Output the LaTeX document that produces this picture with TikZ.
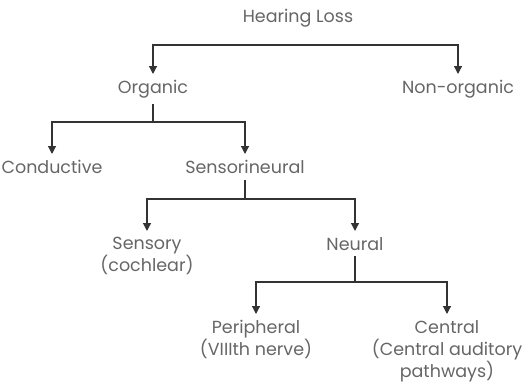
\documentclass[tikz,border=0pt]{standalone}
\usepackage{fontspec}
\setmainfont{Poppins}
\usetikzlibrary{arrows.meta}

\begin{document}
\begin{tikzpicture}[x=1pt,y=-1pt,line width=1.2pt,>={Triangle[length=8pt,width=8pt]},
  term/.style={font=\fontsize{17.5}{22}\selectfont,text=black!60,align=center,inner xsep=1pt,inner ysep=5.5pt,anchor=north},
  link/.style={draw=black!80}]
  \useasboundingbox (0,0) rectangle (531,388);
  % nodos del arbol
  \node[term] (hl) at (298,3) {Hearing Loss};
  \node[term] (org) at (153,74) {Organic};
  \node[term] (non) at (458,74) {Non-organic};
  \node[term] (cond) at (52,154) {Conductive};
  \node[term] (sens) at (245,154) {Sensorineural};
  \node[term] (sensory) at (147,231) {Sensory\\(cochlear)};
  \node[term] (neur) at (355,231) {Neural};
  \node[term] (per) at (256,314) {Peripheral\\(VIIIth nerve)};
  \node[term] (cent) at (447,314) {Central\\(Central auditory\\pathways)};
  % puntos de las barras
  \coordinate (hlbar) at (305,45);
  \coordinate (orgbar) at (153,122);
  \coordinate (sensbar) at (245,199);
  \coordinate (neurbar) at (355,282);
  % ramas
  \draw[link,<->] (org) |- (hlbar) -| (non);
  \draw[link] (org) -- (orgbar);
  \draw[link,<->] (cond) |- (orgbar) -| (sens);
  \draw[link] (sens) -- (sensbar);
  \draw[link,<->] (sensory) |- (sensbar) -| (neur);
  \draw[link] (neur) -- (neurbar);
  \draw[link,<->] (per) |- (neurbar) -| (cent);
\end{tikzpicture}
\end{document}
